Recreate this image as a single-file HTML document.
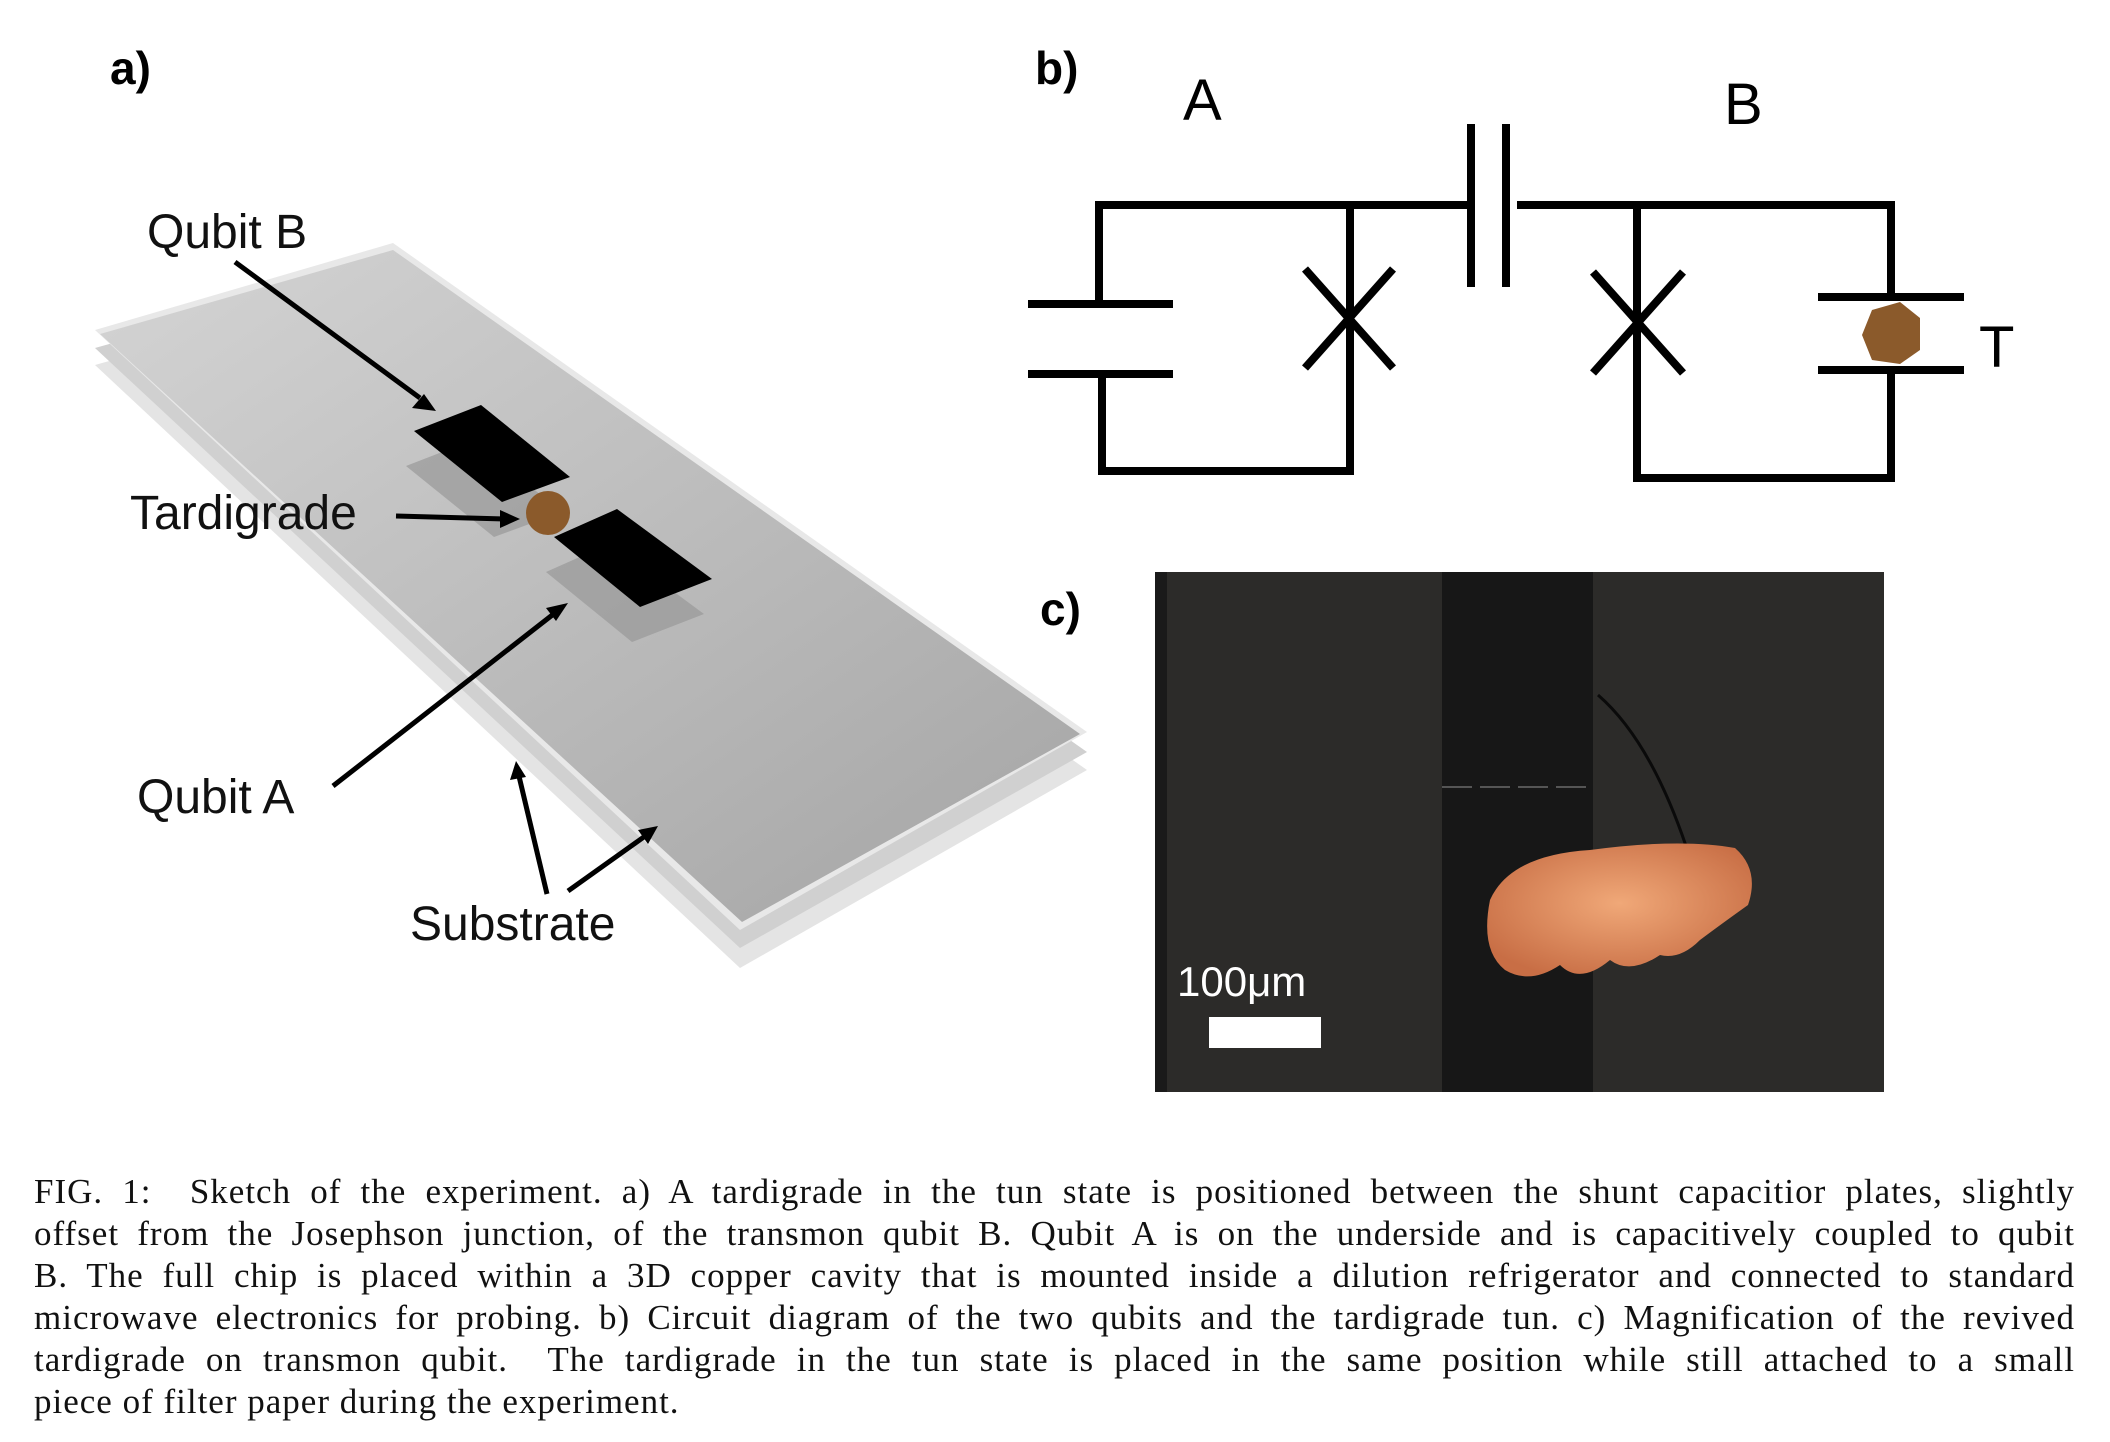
<!DOCTYPE html>
<html><head><meta charset="utf-8"><style>
html,body{margin:0;padding:0;background:#fff;width:2110px;height:1442px;overflow:hidden}
#fig{position:absolute;left:0;top:0}
#cap{position:absolute;left:34px;top:1171px;width:2041px;font-family:"Liberation Serif",serif;font-size:35px;line-height:42px;color:#111;letter-spacing:1px}
#cap div{text-align:justify;text-align-last:justify;white-space:nowrap;height:42px}
#cap div.last{text-align-last:left}
</style></head><body>
<svg id="fig" width="2110" height="1130" font-family="Liberation Sans, sans-serif">
<defs>
<linearGradient id="slab" x1="0" y1="0" x2="1" y2="1"><stop offset="0" stop-color="#d4d4d4"/><stop offset="1" stop-color="#a4a4a4"/></linearGradient>
<radialGradient id="worm" cx="0.5" cy="0.45" r="0.6"><stop offset="0" stop-color="#f0a878"/><stop offset="1" stop-color="#c86e45"/></radialGradient>
</defs>
<g>
<text x="110" y="84" font-size="46" font-weight="bold">a)</text>
<g>
<polygon points="95,365 393,282 1087,770 740,968" fill="#e4e4e4"/>
<polygon points="95,348 393,264 1087,752 740,948" fill="#d0d0d0"/>
<polygon points="95,330 393,243 1087,732 740,930" fill="#e8e8e8"/>
<polygon points="100,334 393,250 1080,734 742,922" fill="url(#slab)"/>
</g>
<polygon points="406,466 473,440 562,512 494,537" fill="#999" opacity="0.7"/>
<polygon points="546,572 609,544 704,614 632,642" fill="#999" opacity="0.7"/>
<polygon points="414,431 481,405 570,477 502,502" fill="#000"/>
<polygon points="554,537 617,509 712,579 640,607" fill="#000"/>
<circle cx="548" cy="513" r="22" fill="#8b5a2b"/>
<g stroke="#000" stroke-width="5" fill="none">
<line x1="235" y1="262" x2="420" y2="398"/><line x1="396" y1="516" x2="505" y2="519"/>
<line x1="333" y1="786" x2="560" y2="609"/><line x1="547" y1="894" x2="518" y2="772"/>
<line x1="568" y1="891" x2="648" y2="834"/></g>
<g fill="#000">
<polygon points="436,411 412,408 424,394"/><polygon points="520,519 500,510 500,528"/>
<polygon points="568,603 556,621 546,608"/><polygon points="516,761 510,780 526,777"/>
<polygon points="658,826 648,844 638,830"/></g>
<g font-size="48" fill="#111">
<text x="147" y="248">Qubit B</text>
<text x="130" y="529">Tardigrade</text>
<text x="137" y="813">Qubit A</text>
<text x="410" y="940">Substrate</text></g>
</g>
<g>
<text x="1035" y="84" font-size="46" font-weight="bold">b)</text>
<text x="1183" y="120" font-size="58">A</text>
<text x="1724" y="124" font-size="58">B</text>
<text x="1979" y="367" font-size="58">T</text>
<g stroke="#000" stroke-width="8" fill="none">
<polyline points="1099,304 1099,205 1471,205"/><line x1="1471" y1="124" x2="1471" y2="287"/><line x1="1506" y1="124" x2="1506" y2="287"/>
<polyline points="1517,205 1891,205 1891,297"/>
<line x1="1028" y1="304" x2="1173" y2="304"/><line x1="1028" y1="374" x2="1173" y2="374"/>
<polyline points="1102,374 1102,471 1350,471 1350,202"/>
<line x1="1305" y1="269" x2="1393" y2="368"/><line x1="1305" y1="368" x2="1393" y2="269"/>
<polyline points="1637,205 1637,478 1891,478 1891,370"/>
<line x1="1593" y1="272" x2="1683" y2="373"/><line x1="1593" y1="373" x2="1683" y2="272"/>
<line x1="1818" y1="297" x2="1964" y2="297"/><line x1="1818" y1="370" x2="1964" y2="370"/>
</g>
<polygon points="1872,310 1900,302 1920,318 1920,350 1900,364 1872,360 1862,335" fill="#8b5a2b"/>
</g>
<g>
<text x="1040" y="625" font-size="46" font-weight="bold">c)</text>
<rect x="1155" y="572" width="729" height="520" fill="#2c2b29"/>
<rect x="1155" y="572" width="12" height="520" fill="#1a1a1a"/>
<rect x="1442" y="572" width="151" height="520" fill="#171717"/>
<line x1="1442" y1="787" x2="1593" y2="787" stroke="#555" stroke-width="2" stroke-dasharray="30,8"/>
<path d="M1598,695 Q1650,740 1686,846" stroke="#0a0a0a" stroke-width="3" fill="none"/>
<path d="M1490,900 Q1510,855 1590,850 Q1680,838 1735,848 Q1760,870 1748,905 Q1720,925 1700,940 Q1680,960 1660,955 Q1630,975 1610,960 Q1580,985 1560,965 Q1530,985 1505,970 Q1480,950 1490,900 Z" fill="url(#worm)"/>
<text x="1177" y="996" font-size="42" fill="#fff">100μm</text>
<rect x="1209" y="1017" width="112" height="31" fill="#fff"/>
</g>
</svg>
<div id="cap">
<div>FIG. 1:&nbsp; Sketch of the experiment. a) A tardigrade in the tun state is positioned between the shunt capacitior plates, slightly</div>
<div>offset from the Josephson junction, of the transmon qubit B. Qubit A is on the underside and is capacitively coupled to qubit</div>
<div>B. The full chip is placed within a 3D copper cavity that is mounted inside a dilution refrigerator and connected to standard</div>
<div>microwave electronics for probing. b) Circuit diagram of the two qubits and the tardigrade tun. c) Magnification of the revived</div>
<div>tardigrade on transmon qubit.&nbsp; The tardigrade in the tun state is placed in the same position while still attached to a small</div>
<div class="last">piece of filter paper during the experiment.</div>
</div>
</body></html>
